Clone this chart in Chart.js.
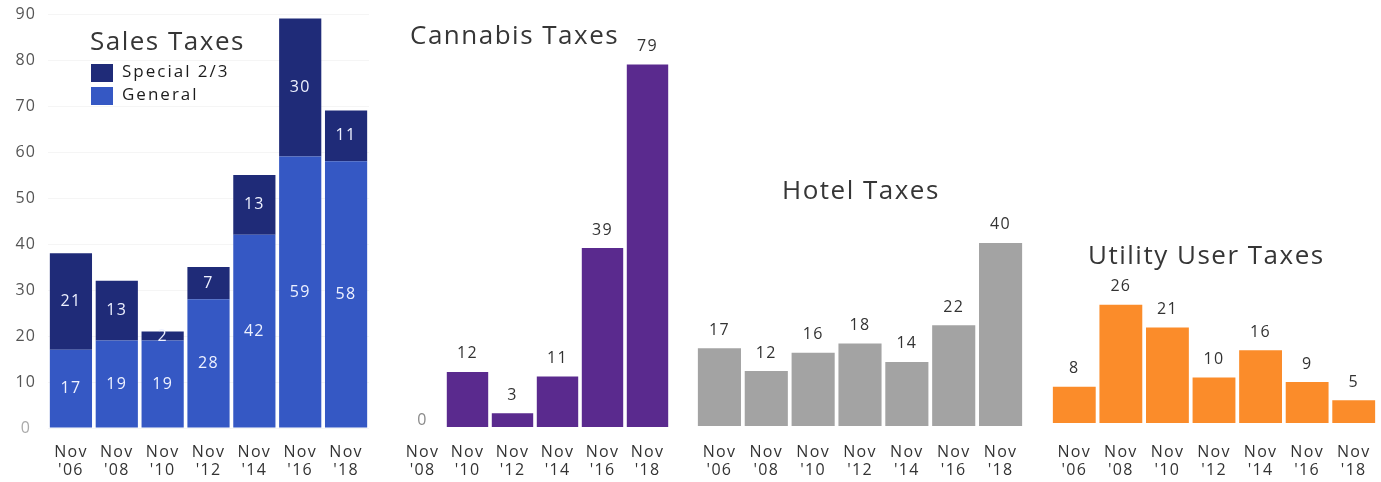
<!DOCTYPE html>
<html>
<head>
<meta charset="utf-8">
<title>Local Tax Measures</title>
<script src="https://cdn.jsdelivr.net/npm/chart.js@4/dist/chart.umd.min.js"></script>
<style>
    body { margin: 0; background: #fff; }
    #wrap { position: relative; width: 1381px; height: 482px; overflow: hidden; }
    .panel { position: absolute; top: 0; height: 482px; }
</style>
</head>
<body>
<div id="wrap">
    <div class="panel" style="left:0"><canvas id="salesChart" width="372" height="482"></canvas></div>
    <div class="panel" style="left:400px"><canvas id="cannabisChart" width="270" height="482"></canvas></div>
    <div class="panel" style="left:696px"><canvas id="hotelChart" width="328" height="482"></canvas></div>
    <div class="panel" style="left:1051px"><canvas id="utilityChart" width="326" height="482"></canvas></div>
</div>
<script>
'use strict';

var electionLabels = [["Nov", "'06"], ["Nov", "'08"], ["Nov", "'10"], ["Nov", "'12"], ["Nov", "'14"], ["Nov", "'16"], ["Nov", "'18"]];
var cannabisLabels = [["Nov", "'08"], ["Nov", "'10"], ["Nov", "'12"], ["Nov", "'14"], ["Nov", "'16"], ["Nov", "'18"]];

var salesGeneral = [17, 19, 19, 28, 42, 59, 58];
var salesSpecial = [21, 13, 2, 7, 13, 30, 11];
var cannabisValues = [0, 12, 3, 11, 39, 79];
var hotelValues = [17, 12, 16, 18, 14, 22, 40];
var utilityValues = [8, 26, 21, 10, 16, 9, 5];

var yMax = 90;
var yStep = 10;

Chart.defaults.font.family = "'Open Sans', sans-serif";
Chart.defaults.animation = false;

// the axis text is set a little wide
var wideText = {
    id: 'wideText',
    beforeDraw: function (chart) {
        chart.ctx.letterSpacing = '1.3px';
    }
};

// numbers on or above each bar, placed from the bar elements
var valueLabels = {
    id: 'valueLabels',
    afterDatasetsDraw: function (chart, args, opts) {
        var ctx = chart.ctx;
        ctx.save();
        ctx.font = '16px "Open Sans", sans-serif';
        ctx.letterSpacing = '1.3px';
        ctx.textAlign = 'center';
        ctx.textBaseline = 'middle';
        chart.data.datasets.forEach(function (ds, d) {
            var meta = chart.getDatasetMeta(d);
            meta.data.forEach(function (bar, i) {
                var v = ds.data[i];
                if (opts.inside) {
                    ctx.fillStyle = '#eef1ff';
                    ctx.fillText(String(v), bar.x, (bar.y + bar.base) / 2);
                } else if (v === 0) {
                    ctx.fillStyle = '#8a8a8a';
                    ctx.fillText(String(v), bar.x, bar.y - 7);
                } else {
                    ctx.fillStyle = '#333';
                    ctx.fillText(String(v), bar.x, bar.y - 18);
                }
            });
        });
        ctx.restore();
    }
};

// panel heading drawn inside the plot
var panelTitle = {
    id: 'panelTitle',
    afterDraw: function (chart, args, opts) {
        if (!opts.text) {
            return;
        }
        var ctx = chart.ctx;
        ctx.save();
        ctx.font = '26px "Open Sans", sans-serif';
        ctx.letterSpacing = '1.5px';
        ctx.fillStyle = '#363636';
        ctx.textAlign = 'left';
        ctx.textBaseline = 'middle';
        ctx.fillText(opts.text, opts.x, opts.y);
        ctx.restore();
    }
};

// small legend for the stacked sales panel, top series first
var boxLegend = {
    id: 'boxLegend',
    afterDraw: function (chart, args, opts) {
        if (!opts.show) {
            return;
        }
        var ctx = chart.ctx;
        var sets = chart.data.datasets.slice().reverse();
        ctx.save();
        ctx.font = '17px "Open Sans", sans-serif';
        ctx.letterSpacing = '2px';
        ctx.textBaseline = 'middle';
        for (var i = 0; i < sets.length; i++) {
            var y = opts.y + i * 23;
            ctx.fillStyle = sets[i].backgroundColor;
            ctx.fillRect(opts.x, y, 22, 18);
            ctx.fillStyle = '#1c1c1c';
            ctx.fillText(sets[i].label, opts.x + 31, y + 8);
        }
        ctx.restore();
    }
};

function createPanel(canvasId, labels, datasets, settings) {
    var ctx = document.getElementById(canvasId).getContext('2d');
    var baseline = settings.baseline;

    return new Chart(ctx, {
        type: 'bar',
        data: {
            labels: labels,
            datasets: datasets
        },
        options: {
            responsive: false,
            layout: { padding: { top: 14, right: settings.rightPad || 0, left: 0, bottom: 0 } },
            datasets: {
                bar: { barPercentage: 0.92, categoryPercentage: 1.0 }
            },
            scales: {
                x: {
                    stacked: !!settings.stacked,
                    grid: { display: false, drawTicks: false },
                    border: { display: false },
                    ticks: {
                        color: '#333',
                        font: { size: 16, lineHeight: '18px' },
                        padding: 443 - baseline,
                        maxRotation: 0,
                        autoSkip: false
                    },
                    afterFit: function (scale) {
                        scale.height = 482 - baseline;
                        scale.paddingLeft = 0;
                        scale.paddingRight = 0;
                    }
                },
                y: {
                    display: !!settings.showY,
                    stacked: !!settings.stacked,
                    min: 0,
                    max: yMax,
                    grid: { color: 'rgba(0,0,0,0.04)', drawTicks: false },
                    border: { display: false },
                    ticks: {
                        stepSize: yStep,
                        padding: 13,
                        crossAlign: 'center',
                        font: { size: 16 },
                        color: function (c) {
                            return c.tick.value === 0 ? '#aaa' : '#555';
                        }
                    },
                    afterFit: function (scale) {
                        if (settings.showY) {
                            scale.width = 48;
                        }
                        scale.paddingTop = 0;
                        scale.paddingBottom = 0;
                    }
                }
            },
            plugins: {
                legend: { display: false },
                tooltip: { enabled: false },
                valueLabels: { inside: !!settings.stacked },
                panelTitle: settings.title,
                boxLegend: { show: !!settings.legend, x: 91, y: 64 }
            }
        },
        plugins: [wideText, valueLabels, panelTitle, boxLegend]
    });
}

createPanel('salesChart', electionLabels, [
    { label: 'General', data: salesGeneral, backgroundColor: '#3558c4' },
    { label: 'Special 2/3', data: salesSpecial, backgroundColor: '#1f2b78' }
], {
    baseline: 428, stacked: true, showY: true, legend: true, rightPad: 3,
    title: { text: 'Sales Taxes', x: 90, y: 43 }
});

createPanel('cannabisChart', cannabisLabels, [
    { label: 'Cannabis', data: cannabisValues, backgroundColor: '#5a2a8e' }
], {
    baseline: 427,
    title: { text: 'Cannabis Taxes', x: 10, y: 37 }
});

createPanel('hotelChart', electionLabels, [
    { label: 'Hotel', data: hotelValues, backgroundColor: '#a3a3a3' }
], {
    baseline: 426,
    title: { text: 'Hotel Taxes', x: 86, y: 192 }
});

createPanel('utilityChart', electionLabels, [
    { label: 'Utility User', data: utilityValues, backgroundColor: '#fb8c2a' }
], {
    baseline: 423,
    title: { text: 'Utility User Taxes', x: 37, y: 257 }
});
</script>
</body>
</html>
